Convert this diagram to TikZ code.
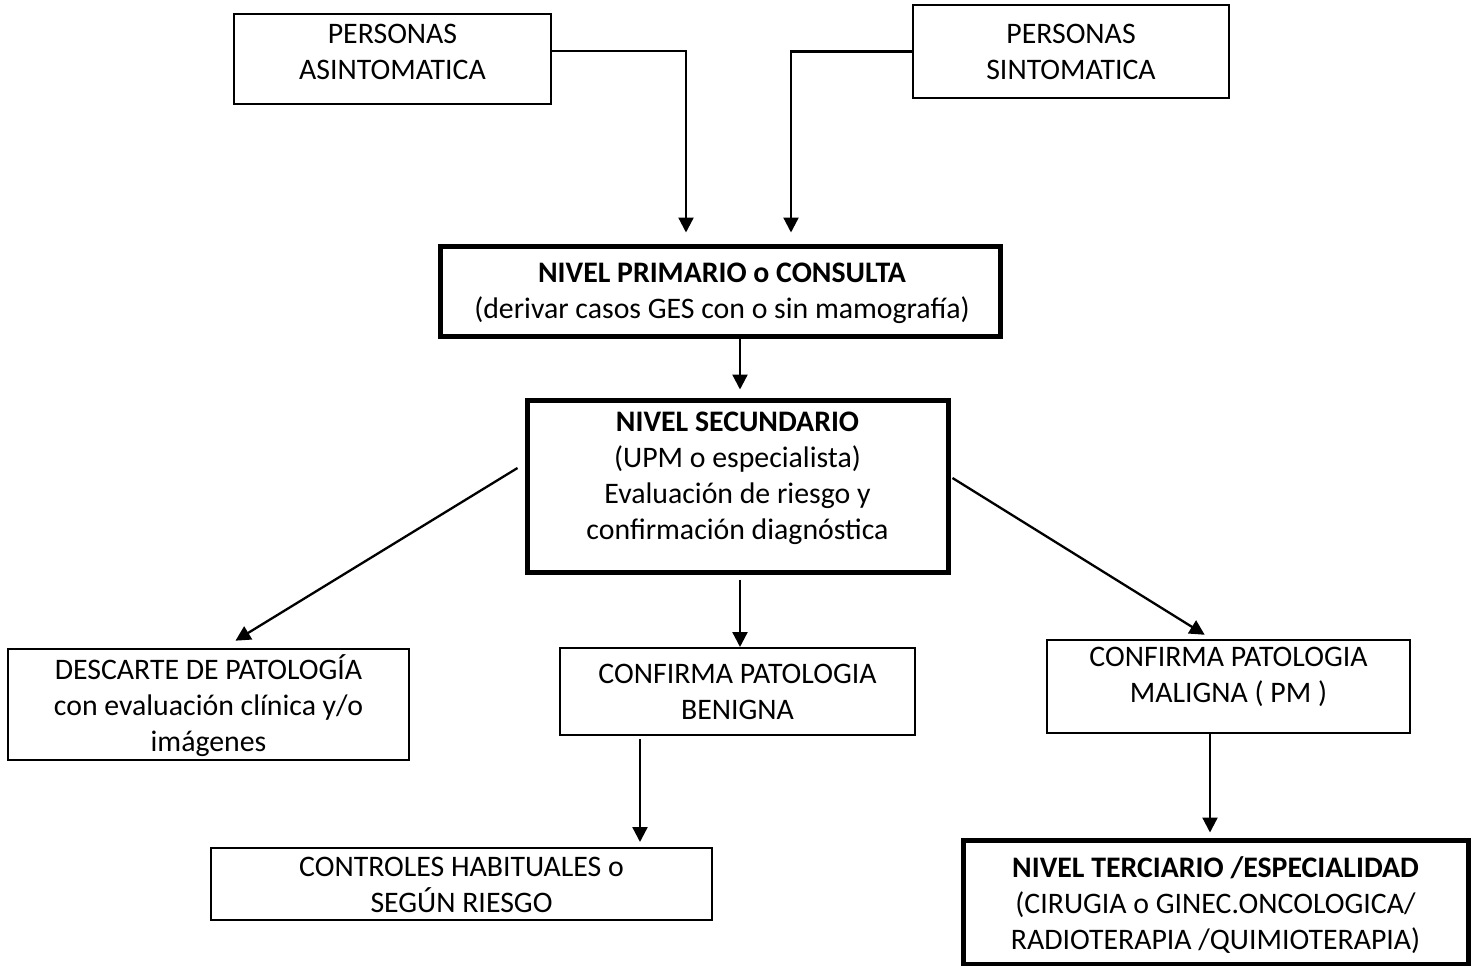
\documentclass[tikz,border=0pt]{standalone}
\usepackage{fontspec}
\setmainfont{Carlito}
\usetikzlibrary{arrows.meta}
\begin{document}
\begin{tikzpicture}[x=1pt,y=-1pt,
  thinbox/.style={draw,line width=2pt,minimum width=#1,inner sep=0pt},
  thickbox/.style={draw,line width=5pt,minimum width=#1,inner sep=0pt},
  txt/.style={align=center,inner sep=0pt,font=\fontsize{29.8}{36}\selectfont},
  arr/.style={line width=2.3pt,-{Triangle[width=15pt,length=15pt]}}]
\useasboundingbox (0,0) rectangle (1475,966);

% boxes
\node[thinbox=317pt,minimum height=90pt] (asin) at (392.5,59) {};
\node[thinbox=316pt,minimum height=93pt] (sint) at (1071,51.5) {};
\node[thickbox=560pt,minimum height=90pt] (prim) at (720,291) {};
\node[thickbox=421pt,minimum height=172pt] (sec) at (737.5,486) {};
\node[thinbox=401pt,minimum height=111pt] (desc) at (208.5,704.5) {};
\node[thinbox=355pt,minimum height=87pt] (ben) at (737.5,691.5) {};
\node[thinbox=363pt,minimum height=93pt] (mal) at (1228.5,686.5) {};
\node[thinbox=501pt,minimum height=72pt] (ctrl) at (461.5,884) {};
\node[thickbox=505pt,minimum height=124pt] (terc) at (1215.5,902) {};

% texts
\node[txt] (asin-t) at (392.5,52) {PERSONAS\\ASINTOMATICA};
\node[txt] (sint-t) at (1071,52) {PERSONAS\\SINTOMATICA};
\node[txt] (prim-t) at (722,293) {\textbf{NIVEL PRIMARIO o CONSULTA}\\(derivar casos GES con o sin mamografía)};
\node[txt] (sec-t) at (737.5,478) {\textbf{NIVEL SECUNDARIO}\\(UPM o especialista)\\Evaluación de riesgo y\\confirmación diagnóstica};
\node[txt] (desc-t) at (208.5,706) {DESCARTE DE PATOLOGÍA\\con evaluación clínica y/o\\imágenes};
\node[txt] (ben-t) at (737.5,692) {CONFIRMA PATOLOGIA\\BENIGNA};
\node[txt] (mal-t) at (1228.5,677) {CONFIRMA PATOLOGIA\\MALIGNA ( PM )};
\node[txt] (ctrl-t) at (461.5,885) {CONTROLES HABITUALES o\\SEGÚN RIESGO};
\node[txt] (terc-t) at (1215.5,905) {\textbf{NIVEL TERCIARIO /ESPECIALIDAD}\\(CIRUGIA o GINEC.ONCOLOGICA/\\RADIOTERAPIA /QUIMIOTERAPIA)};

% connectors
\draw[arr,shorten >=11pt] ([yshift=8pt]asin.east) -| ([xshift=-34pt]prim.north);
\draw[arr,shorten >=11pt] (sint.west) -| ([xshift=71pt]prim.north);
\draw[arr,shorten >=8pt] ([xshift=2.5pt]prim.south -| sec.north) -- ([xshift=2.5pt]sec.north);
\draw[arr,shorten <=5pt] ([xshift=2.5pt]sec.south) -- ([xshift=2.5pt]ben.north);
\draw[arr,shorten >=14pt] ([xshift=-7pt,yshift=18pt]sec.west) -- ([xshift=15pt]desc.north);
\draw[arr,shorten >=8pt] ([xshift=2pt,yshift=8pt]sec.east) -- ([xshift=-17pt]mal.north);
\draw[arr,shorten >=5pt] ([xshift=-18.5pt]mal.south) -- ([xshift=-5.5pt]terc.north);
\draw[arr,shorten <=3pt,shorten >=5pt] ([xshift=-97.5pt]ben.south) -- ([xshift=-97.5pt]ben.south |- ctrl.north);
\end{tikzpicture}
\end{document}
